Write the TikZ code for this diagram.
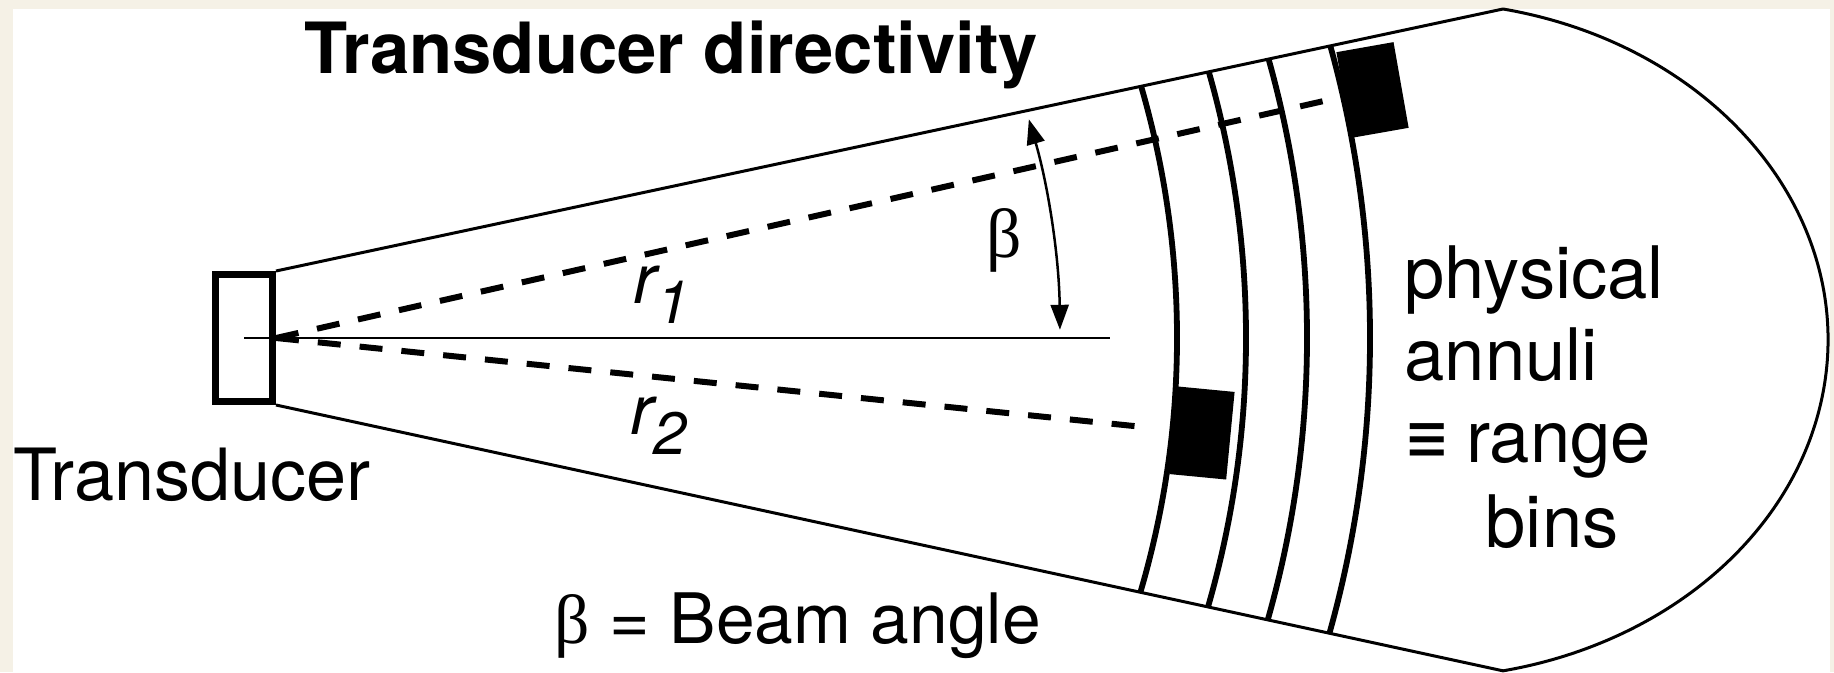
\documentclass[tikz,border=0pt]{standalone}
\usepackage{fontspec}
\setmainfont{TeX Gyre Heros}
\newfontfamily\betafont{Liberation Serif}
\newfontfamily\eqvfont{DejaVu Sans}
\usepackage{tikz}
\usetikzlibrary{arrows.meta,calc}
\definecolor{papercream}{HTML}{F5F1E6}

\begin{document}
\begin{tikzpicture}[
  every node/.style={font=\fontsize{19.8}{23}\selectfont, inner sep=0pt},
  heading/.style={font=\fontsize{20.1}{23}\selectfont\bfseries},
  note/.style={anchor=base west, font=\fontsize{20.6}{24}\selectfont},
  outline/.style={line width=0.03cm, line join=round},
  probe/.style={rectangle, draw, line width=0.07cm, minimum width=0.57cm, minimum height=1.27cm},
  annulus/.style={line width=0.058cm},
  ray/.style={line width=0.06cm, dash pattern=on 0.23cm off 0.19cm},
  axisline/.style={line width=0.025cm},
  bin/.style={rectangle, fill=black},
  betaarrow/.style={{Triangle[length=2.5mm,width=1.8mm]}-{Triangle[length=2.5mm,width=1.8mm]}, line width=0.025cm}
]
\useasboundingbox (0,0) rectangle (18.34,6.72);

% Background
\fill[papercream] (0,0) rectangle (18.34,6.72);
\fill[white] (0.13,0) rectangle (18.30,6.63);

% Transducer
\node[probe] (transducer) at (2.44,3.34) {};
\node[anchor=base, font=\fontsize{20.5}{24}\selectfont] (translabel) at (1.92,1.72) {Transducer};

% Beam outline with rounded far end
\coordinate (capTop) at (15.03,6.63);
\coordinate (capBot) at (15.03,0.01);
\draw[outline] (transducer.north east) -- (capTop)
  arc[start angle=78.26, end angle=-78.26, x radius=4.08, y radius=3.38]
  -- (transducer.south east);

% Annuli (range bins)
\begin{scope}
  \clip (transducer.north east) -- (capTop) -- (capBot) -- (transducer.south east) -- cycle;
  \foreach \r in {9.01,9.70,10.31,10.94}
    \draw[annulus] (transducer.east) ++(-25:\r) arc[start angle=-25, end angle=25, radius=\r];
\end{scope}

% Beam axis
\coordinate (axisend) at (11.10,3.34);
\draw[axisline] (transducer.center) -- (axisend);

% Scatterers
\node[bin, rotate=10, minimum width=0.58cm, minimum height=0.87cm] (farbin) at (13.725,5.82) {};
\node[bin, rotate=-5.5, minimum width=0.57cm, minimum height=0.88cm] (nearbin) at (12.02,2.39) {};

\draw[ray] (transducer.east) -- (farbin);
\draw[ray, shorten >=0.36cm] (transducer.east) -- (nearbin);
\node (rone) at (6.62,3.77) {\itshape r\raisebox{-0.2cm}{\fontsize{17}{17}\selectfont 1}};
\node (rtwo) at (6.59,2.46) {\itshape r\raisebox{-0.2cm}{\fontsize{17}{17}\selectfont 2}};

% Beam angle
\draw[betaarrow, shift={(transducer.east)}] (16.2:7.84) arc[start angle=16.2, end angle=0.6, radius=7.84];
\node (betalabel) at (10.04,4.32) {\betafont β};

% Labels
\node[heading, anchor=base] (title) at (6.71,5.98) {Transducer directivity};
\node[anchor=base] (beamangle) at (7.98,0.29) {{\betafont β} = Beam angle};
\node[note] (physical) at (14.04,3.74) {physical};
\node[note] (annuli) at (14.04,2.92) {annuli};
\node[note] (range) at (14.04,2.10) {{\eqvfont\scalebox{0.75}[1]{≡}}\hspace{0.16cm}range};
\node[note] (bins) at (14.85,1.25) {bins};

\end{tikzpicture}
\end{document}
